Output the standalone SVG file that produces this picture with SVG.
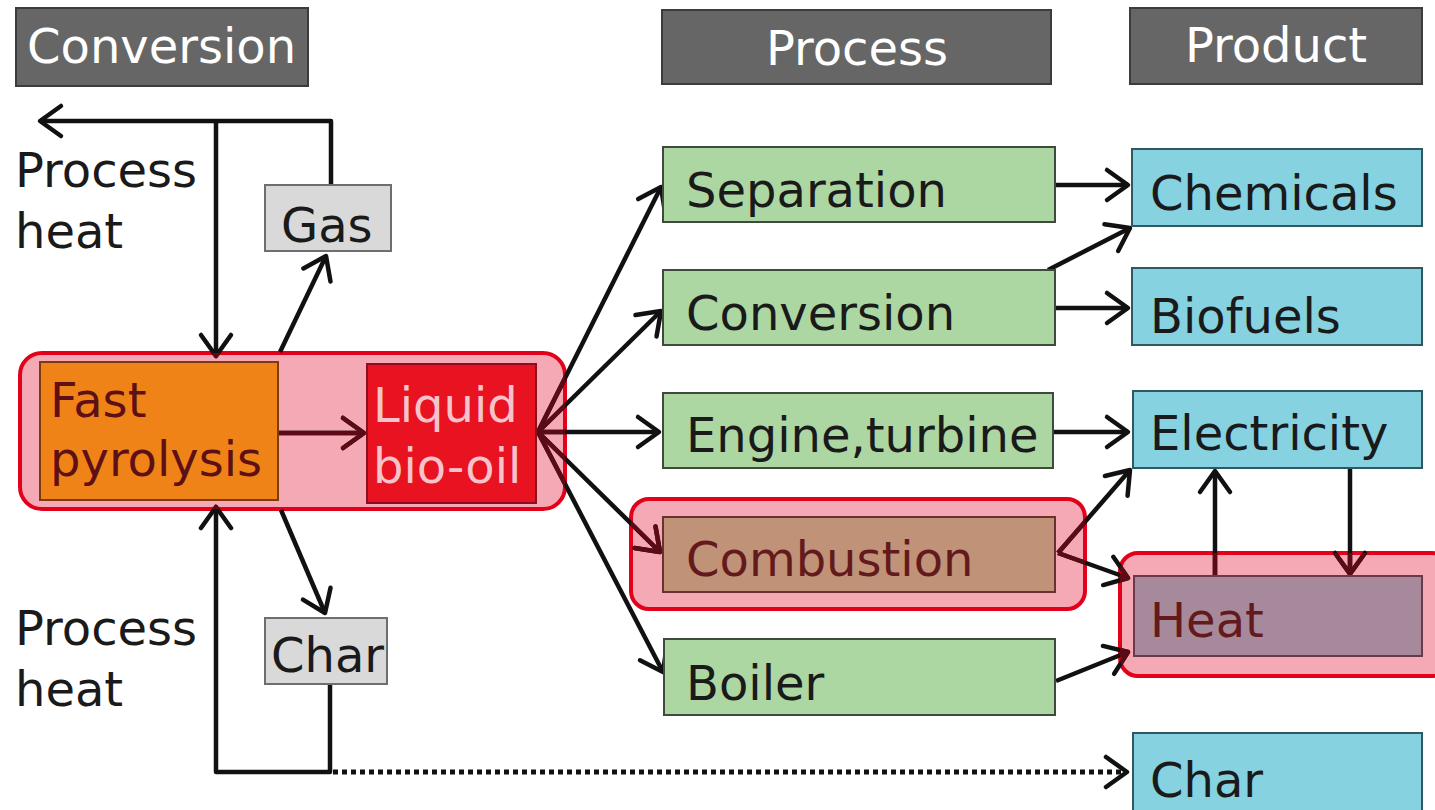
<svg xmlns="http://www.w3.org/2000/svg" xmlns:xlink="http://www.w3.org/1999/xlink" width="1435" height="810" viewBox="0 0 1435 810">
<style>
text{font-family:"DejaVu Sans","Verdana",sans-serif;font-size:48px;fill:#1a1a1a}
.hdr rect{fill:#666666;stroke:#3c3c3c;stroke-width:2}
.hdr text{fill:#ffffff}
.gray rect{fill:#d9d9d9;stroke:#6e6e6e;stroke-width:2}
.green rect{fill:#acd7a3;stroke:#3e4a3c;stroke-width:2}
.cyan rect{fill:#86d2e1;stroke:#2f5860;stroke-width:2}
.hl{fill:#f4a9b5;stroke:#e2001a;stroke-width:4}
.dk{fill:#5e1014}
</style>
<defs>
<marker id="ah" markerUnits="userSpaceOnUse" orient="auto" refX="0" refY="0" markerWidth="60" markerHeight="60" overflow="visible">
<path d="M-21,-15 L0,0 L-21,15" fill="none" stroke="#111" stroke-width="4.5" stroke-linejoin="round" stroke-linecap="round"/>
</marker>
<marker id="ahd" markerUnits="userSpaceOnUse" orient="auto" refX="0" refY="0" markerWidth="60" markerHeight="60" overflow="visible">
<path d="M-21,-15 L0,0 L-21,15" fill="none" stroke="#5c0a16" stroke-width="4.5" stroke-linejoin="round" stroke-linecap="round"/>
</marker>
<clipPath id="hlclip">
<rect x="20" y="353" width="545" height="156" rx="22"/>
<rect x="631" y="499" width="454" height="110" rx="18"/>
<rect x="1120" y="553" width="330" height="123" rx="18"/>
</clipPath>
<g id="connpaths">
<path d="M331,185 V121 H40"/>
<path d="M216,121 V356"/>
<path d="M280,352 L326,256"/>
<path d="M281,510 L325,613"/>
<path d="M330,684 V772 H216 V507"/>
<path d="M333,772 H1127" stroke-dasharray="5 4" stroke-width="5"/>
<path d="M278,433 H364"/>
<path d="M538,432 L661,187"/>
<path d="M538,432 L661,311"/>
<path d="M538,432 H659"/>
<path d="M538,432 L660,552"/>
<path d="M538,432 L663,672"/>
<path d="M1056,185 H1128"/>
<path d="M1048,270 L1130,228"/>
<path d="M1056,308 H1128"/>
<path d="M1054,432 H1128"/>
<path d="M1058,553 L1130,470"/>
<path d="M1058,553 L1128,578"/>
<path d="M1056,681 L1128,652"/>
<path d="M1215,576 V471"/>
<path d="M1350,468 V574"/>
</g>
</defs>
<rect width="1435" height="810" fill="#ffffff"/>

<g id="highlights">
<rect class="hl" x="20" y="353" width="545" height="156" rx="22"/>
<rect class="hl" x="631" y="499" width="454" height="110" rx="18"/>
<rect class="hl" x="1120" y="553" width="330" height="123" rx="18"/>
</g>

<g id="connectors" fill="none" stroke-width="4.5" stroke-linejoin="round">
<g stroke="#111" marker-end="url(#ah)"><use xlink:href="#connpaths"/></g>
<g stroke="#5c0a16" marker-end="url(#ahd)" clip-path="url(#hlclip)"><use xlink:href="#connpaths"/></g>
</g>

<g id="hdr-conversion" class="hdr"><rect x="16" y="8" width="292" height="78"/><text x="27" y="63">Conversion</text></g>
<g id="hdr-process" class="hdr"><rect x="662" y="10" width="389" height="74"/><text x="857" y="65" text-anchor="middle">Process</text></g>
<g id="hdr-product" class="hdr"><rect x="1130" y="8" width="292" height="76"/><text x="1276" y="62" text-anchor="middle">Product</text></g>

<g id="lbl-heat-top"><text x="15" y="187">Process</text><text x="15" y="248">heat</text></g>
<g id="lbl-heat-bottom"><text x="15" y="645">Process</text><text x="15" y="706">heat</text></g>

<g id="gas" class="gray"><rect x="265" y="185" width="126" height="66"/><text x="281" y="242">Gas</text></g>
<g id="char-mid" class="gray"><rect x="265" y="618" width="122" height="66"/><text x="271" y="672">Char</text></g>

<g id="pyrolysis"><rect x="40" y="362" width="238" height="138" fill="#f08318" stroke="#7a3a12" stroke-width="2"/><text class="dk" x="50" y="417">Fast</text><text class="dk" x="50" y="476">pyrolysis</text></g>
<g id="biooil"><rect x="367" y="364" width="169" height="139" fill="#e81220" stroke="#8a1020" stroke-width="2"/><text x="373" y="422" style="fill:#f6c3cb">Liquid</text><text x="373" y="483" style="fill:#f6c3cb">bio-oil</text></g>

<g id="separation" class="green"><rect x="663" y="147" width="392" height="75"/><text x="686" y="207">Separation</text></g>
<g id="conversion" class="green"><rect x="663" y="270" width="392" height="75"/><text x="686" y="330">Conversion</text></g>
<g id="engine" class="green"><rect x="663" y="393" width="390" height="75"/><text x="686" y="452">Engine,turbine</text></g>
<g id="combustion"><rect x="663" y="517" width="392" height="75" fill="#c09378" stroke="#6b3030" stroke-width="2"/><text x="686" y="576" style="fill:#641a1c">Combustion</text></g>
<g id="boiler" class="green"><rect x="664" y="639" width="391" height="76"/><text x="686" y="700">Boiler</text></g>

<g id="chemicals" class="cyan"><rect x="1132" y="149" width="290" height="77"/><text x="1150" y="210">Chemicals</text></g>
<g id="biofuels" class="cyan"><rect x="1132" y="268" width="290" height="77"/><text x="1150" y="333">Biofuels</text></g>
<g id="electricity" class="cyan"><rect x="1133" y="391" width="289" height="77"/><text x="1150" y="450">Electricity</text></g>
<g id="heat"><rect x="1134" y="576" width="288" height="80" fill="#a68a9c" stroke="#6b3a4a" stroke-width="2"/><text x="1150" y="637" style="fill:#641a1c">Heat</text></g>
<g id="char-product" class="cyan"><rect x="1133" y="733" width="289" height="90"/><text x="1150" y="797">Char</text></g>
</svg>
